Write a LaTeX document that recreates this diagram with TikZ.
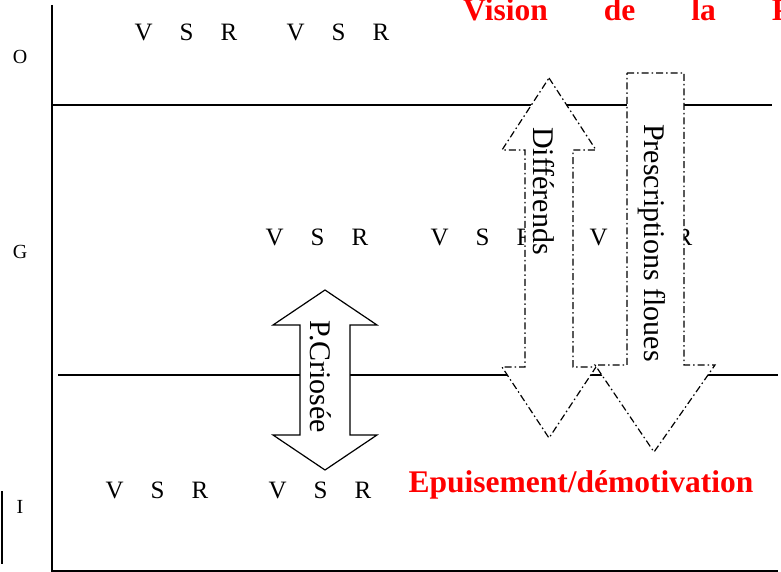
\documentclass[tikz,border=0pt]{standalone}
\usepackage{fontspec}
\setmainfont{Liberation Serif}
\usetikzlibrary{positioning}
\tikzset{
  axisline/.style={line width=1.5bp},
  vsr/.style={font=\fontsize{25bp}{25bp}\selectfont,anchor=base,inner sep=0pt},
  level/.style={font=\fontsize{20bp}{20bp}\selectfont,inner sep=0pt},
  banner/.style={font=\fontsize{31.5bp}{31.5bp}\selectfont\bfseries,text=red,inner sep=0pt},
  solidarrow/.style={draw=black,fill=white,line width=1.2bp,line join=miter},
  dotarrow/.style={draw=black,fill=white,line width=1.2bp,
                   dash pattern=on 7bp off 3bp on 1.5bp off 3bp},
  arrowtext/.style={rotate=-90,font=\fontsize{30bp}{30bp}\selectfont,inner sep=0pt},
}
\newcommand{\vsrgroup}{V\hspace{27bp}S\hspace{27bp}R}
\begin{document}
\begin{tikzpicture}[x=1bp,y=-1bp]
  \useasboundingbox (0,0) rectangle (781,572);
  % axes and level lines
  \draw[axisline] (52,5) -- (52,571) -- (778,571);
  \draw[axisline] (52,105) -- (772,105);
  \draw[axisline] (58,375) -- (778,375);
  \draw[line width=2bp] (2,491) -- (2,564);
  % levels
  \node[level] (lo) at (20,57) {O};
  \node[level] (lg) at (20,252) {G};
  \node[level] (li) at (20,507) {I};
  % V S R rows
  \node[vsr] (o1) at (186,41) {\vsrgroup};
  \node[vsr] (o2) at (338,41) {\vsrgroup};
  \node[vsr] (g1) at (317,245) {\vsrgroup};
  \node[vsr] (g2) at (482,245) {\vsrgroup};
  \node[vsr] (g3) at (641,245) {\vsrgroup};
  \node[vsr] (i1) at (157,498) {\vsrgroup};
  \node[vsr] (i2) at (320,498) {\vsrgroup};
  % titles
  \node[banner,anchor=base west] (vision) at (463,21)
    {Vision\hspace{56bp}de\hspace{56bp}la\hspace{56bp}P};
  \node[banner,anchor=base] (epuis) at (581,492) {Epuisement/démotivation};
  % arrows
  \filldraw[solidarrow] (325,290) -- (377,325) -- (350,325) -- (350,435) -- (377,435)
    -- (325,470) -- (273,435) -- (300,435) -- (300,325) -- (273,325) -- cycle;
  \filldraw[dotarrow] (549,78) -- (596,150) -- (573,150) -- (573,367) -- (596,367)
    -- (549,438) -- (502,367) -- (525,367) -- (525,150) -- (502,150) -- cycle;
  \filldraw[dotarrow] (627,73) -- (684,73) -- (684,365) -- (715,365) -- (654,452)
    -- (595,365) -- (627,365) -- cycle;
  \node[arrowtext] (crio) at (321,377) {P.Criosée};
  \node[arrowtext] (diff) at (544,191) {Différends};
  \node[arrowtext] (presc) at (652,243) {Prescriptions floues};
\end{tikzpicture}
\end{document}
